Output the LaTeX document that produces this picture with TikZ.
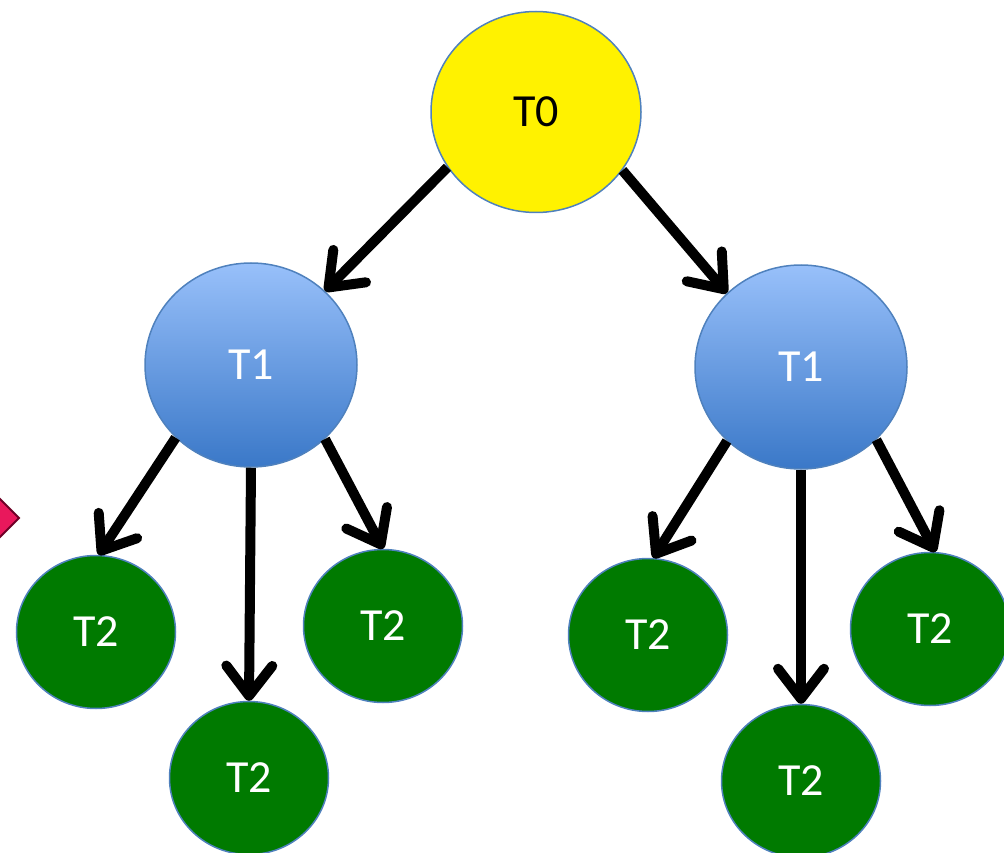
\documentclass[tikz,border=0pt]{standalone}
\usepackage{fontspec}
\setmainfont{Carlito}
\usetikzlibrary{shapes.geometric,arrows.meta}
\definecolor{rimblue}{RGB}{79,129,189}
\definecolor{tgreen}{RGB}{0,122,0}
\definecolor{t1top}{RGB}{152,192,250}
\definecolor{t1bot}{RGB}{58,120,200}
\definecolor{dpink}{RGB}{233,24,92}
\definecolor{dpinkrim}{RGB}{110,0,38}
\tikzset{
  circ/.style={ellipse, inner sep=0pt, draw=rimblue, line width=1.5pt, font=\fontsize{46}{50}\selectfont},
  rootnode/.style={circ, fill=yellow, minimum width=210pt, minimum height=201pt, text=black},
  midnode/.style={circ, top color=t1top, bottom color=t1bot, minimum width=212pt, minimum height=204pt, text=white},
  leafnode/.style={circ, fill=tgreen, minimum width=159pt, minimum height=153pt, text=white},
  link/.style={line width=10pt, -{Straight Barb[length=30pt, width=46pt, round]}}
}
\begin{document}
\begin{tikzpicture}[x=1pt,y=-1pt]
\useasboundingbox (0,0) rectangle (1004,853);
\begin{scope}
\clip (0,0) rectangle (1004,853);
\fill[dpink, draw=dpinkrim, line width=2pt] (19,518) -- (-40,459) -- (-99,518) -- (-40,577) -- cycle;
\node[rootnode] (t0) at (536,112) {T0};
\node[midnode] (t1a) at (251,365) {T1};
\node[midnode] (t1b) at (801,367) {T1};
\node[leafnode] (a1) at (96,632) {T2};
\node[leafnode] (a2) at (249,778) {T2};
\node[leafnode] (a3) at (383,626) {T2};
\node[leafnode] (b1) at (648,635) {T2};
\node[leafnode] (b2) at (801,781) {T2};
\node[leafnode] (b3) at (930,629) {T2};
\draw[link] (t0.212) -- (t1a.45);
\draw[link] (t0.326) -- (t1b.135);
\draw[link] (t1a.224) -- (a1.88);
\draw[link] (t1a.270) -- (a2.90);
\draw[link] (t1a.315) -- (a3.90);
\draw[link] (t1b.225) -- (b1.86);
\draw[link] (t1b.270) -- (b2.90);
\draw[link] (t1b.316) -- (b3.86);
\end{scope}
\end{tikzpicture}
\end{document}
